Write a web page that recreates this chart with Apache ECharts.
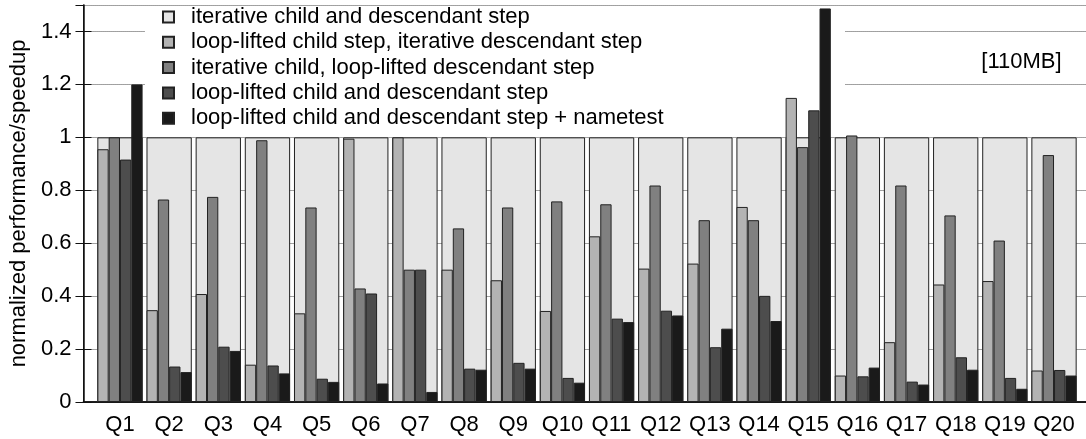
<!DOCTYPE html>
<html><head><meta charset="utf-8">
<script src="https://cdn.jsdelivr.net/npm/echarts@6/dist/echarts.min.js"></script>
<style>html,body{margin:0;padding:0;background:#fff}#c{width:1086px;height:439px}</style>
</head><body><div id="c"></div>
<script>
const categories = ['Q1','Q2','Q3','Q4','Q5','Q6','Q7','Q8','Q9','Q10','Q11','Q12','Q13','Q14','Q15','Q16','Q17','Q18','Q19','Q20'];
const seriesNames = [
  'iterative child and descendant step',
  'loop-lifted child step, iterative descendant step',
  'iterative child, loop-lifted descendant step',
  'loop-lifted child and descendant step',
  'loop-lifted child and descendant step + nametest'
];
const iterativeBoth   = [1,1,1,1,1,1,1,1,1,1,1,1,1,1,1,1,1,1,1,1];
const llChildItDesc   = [0.955,0.347,0.408,0.141,0.335,0.995,1.0,0.5,0.46,0.344,0.626,0.504,0.523,0.737,1.149,0.1,0.226,0.444,0.457,0.119];
const itChildLlDesc   = [1.0,0.765,0.775,0.989,0.735,0.429,0.5,0.656,0.735,0.758,0.747,0.818,0.687,0.687,0.963,1.007,0.818,0.705,0.61,0.933];
const llBoth          = [0.916,0.134,0.209,0.138,0.088,0.41,0.5,0.126,0.148,0.091,0.315,0.345,0.207,0.401,1.102,0.097,0.077,0.169,0.091,0.121];
const llBothNametest  = [1.2,0.113,0.193,0.108,0.076,0.07,0.038,0.122,0.126,0.073,0.302,0.327,0.277,0.306,1.487,0.13,0.066,0.122,0.05,0.1];
const colors = ['#e5e5e5','#b3b3b3','#808080','#4d4d4d','#1a1a1a'];
const annotation = '[110MB]';
const yName = 'normalized performance/speedup';

const FONT = "'Liberation Sans', Arial, sans-serif";
const FS = 22;
const chart = echarts.init(document.getElementById('c'), null, {renderer:'canvas'});
const yScale = {type:'value', min:0, max:1.5, interval:0.2};
const border = '#222';
function barSeries(i, data, xIdx, width) {
  return {
    name: seriesNames[i], type:'bar', xAxisIndex:xIdx, yAxisIndex:2, data:data,
    barWidth: width, barGap:'0%', z: 2 + (i>0?1:0),
    itemStyle:{color:colors[i], borderColor:border, borderWidth:1},
    emphasis:{disabled:true}, animation:false
  };
}
chart.setOption({
  animation:false,
  textStyle:{fontFamily:FONT},
  grid:[
    {left:82, right:0, top:5, bottom:37},
    {left:95.4, right:7.4, top:5, bottom:37}
  ],
  xAxis:[
    {gridIndex:0, type:'value', min:0, max:1, position:'bottom', axisLine:{show:true, lineStyle:{color:'#111', width:1.5}}, axisTick:{show:false}, axisLabel:{show:false}, splitLine:{show:false}},
    {gridIndex:0, type:'value', min:0, max:1, position:'top', axisLine:{show:true, lineStyle:{color:'#111', width:1.5}}, axisTick:{show:false}, axisLabel:{show:false}, splitLine:{show:false}},
    {gridIndex:1, type:'category', data:categories, axisLine:{show:false}, axisTick:{show:false},
      axisLabel:{fontSize:FS, color:'#000', margin:12, fontFamily:FONT, interval:0}},
    {gridIndex:1, type:'category', data:categories, show:false}
  ],
  yAxis:[
    Object.assign({gridIndex:0, position:'left',
      name:yName, nameLocation:'middle', nameRotate:90, nameGap:48,
      nameTextStyle:{fontSize:FS, color:'#000', fontFamily:FONT},
      axisLine:{show:true, lineStyle:{color:'#111', width:1.5}},
      axisTick:{show:true, inside:true, length:8, lineStyle:{color:'#111'}},
      axisLabel:{fontSize:FS, color:'#000', margin:12, showMaxLabel:false, fontFamily:FONT},
      splitLine:{show:true, lineStyle:{type:'dotted', color:'#444', width:1}}}, yScale),
    Object.assign({gridIndex:0, position:'right',
      axisLine:{show:true, lineStyle:{color:'#111'}},
      axisTick:{show:true, inside:true, length:8, lineStyle:{color:'#111'}},
      axisLabel:{show:false}, splitLine:{show:false}}, yScale),
    Object.assign({gridIndex:1, show:false}, yScale)
  ],
  legend:{
    orient:'vertical', left:162, top:6, padding:0, itemWidth:11, itemHeight:11, itemGap:3.3,
    icon:'rect', selectedMode:false,
    textStyle:{fontSize:FS, lineHeight:22, color:'#000', padding:[0,0,0,12], fontFamily:FONT},
    data:seriesNames
  },
  graphic:[
    {type:'rect', z:1, silent:true, shape:{x:145, y:6, width:700, height:122}, style:{fill:'#fff'}},
    {type:'text', z:5, silent:true, x:1021.5, y:62, style:{text:annotation, fontSize:FS, fontFamily:FONT, fill:'#000', textAlign:'center', textVerticalAlign:'middle'}}
  ],
  series:[
    barSeries(0, iterativeBoth, 2, 45.3),
    barSeries(1, llChildItDesc, 3, 11.3),
    barSeries(2, itChildLlDesc, 3, 11.3),
    barSeries(3, llBoth, 3, 11.3),
    barSeries(4, llBothNametest, 3, 11.3)
  ]
});
</script></body></html>
